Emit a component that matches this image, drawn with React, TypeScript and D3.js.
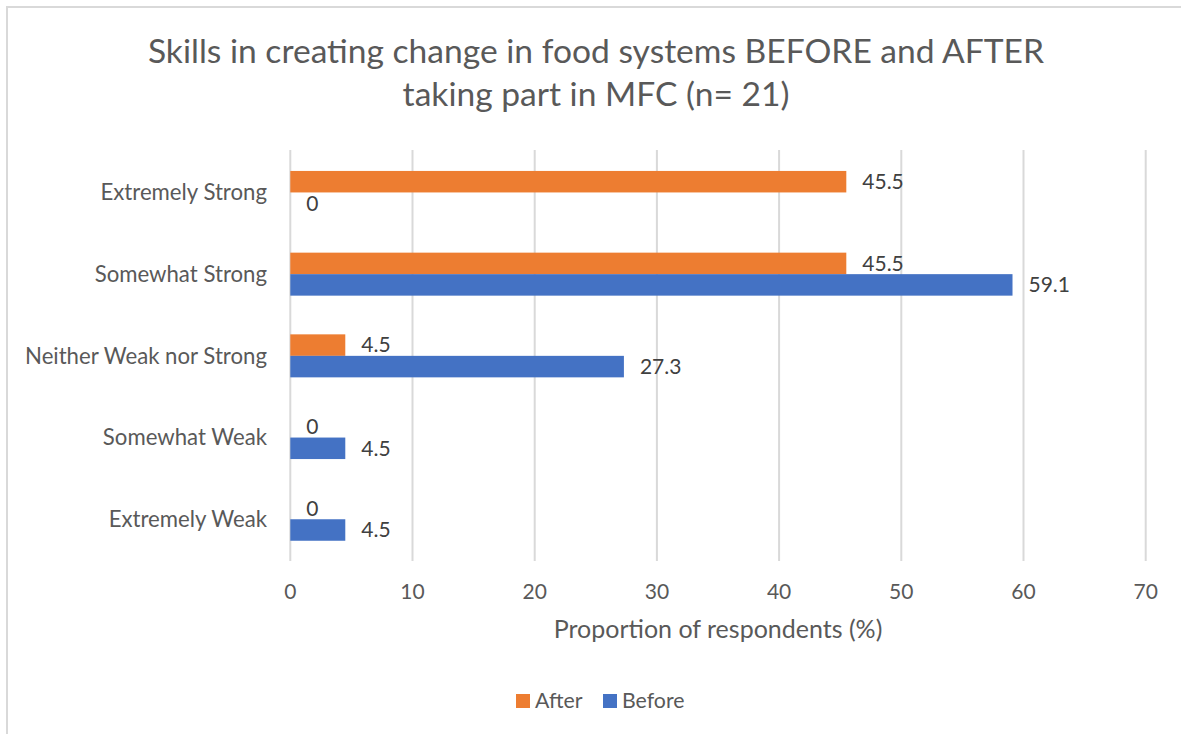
import React from "react";
import * as d3 from "d3";

const categories = [
  "Extremely Strong",
  "Somewhat Strong",
  "Neither Weak nor Strong",
  "Somewhat Weak",
  "Extremely Weak",
];
const seriesNames = ["After", "Before"];
const afterValues = [45.5, 45.5, 4.5, 0, 0];
const beforeValues = [0, 59.1, 27.3, 4.5, 4.5];
const xTicks = [0, 10, 20, 30, 40, 50, 60, 70];
const colors = ["#ED7D31", "#4472C4"];
const titleLines = [
  "Skills in creating change in food systems BEFORE and AFTER",
  "taking part in MFC (n= 21)",
];
const xAxisTitle = "Proportion of respondents (%)";

const W = 1181;
const H = 734;
const FONT = "Lato, 'Open Sans', sans-serif";

export default function App() {
  const x = d3.scaleLinear().domain([0, 70]).range([290.3, 1145.7]);
  const y = d3.scaleBand<string>().domain(categories).range([151.6, 560.1]).paddingInner(0.4737).paddingOuter(0.2368);
  const inner = d3.scaleBand<string>().domain(seriesNames).range([0, y.bandwidth()]);
  const series = [afterValues, beforeValues];

  return (
    <svg width={W} height={H} style={{ position: "absolute", left: 0, top: 0, background: "#fff" }}>
      <rect x={7} y={7} width={W + 10} height={H + 10} fill="#fff" stroke="#D9D9D9" strokeWidth={2} />
      {titleLines.map((t, i) => (
        <text key={i} x={596} y={63 + i * 43} textAnchor="middle" fontFamily={FONT} fontSize={33.6} fill="#595959">
          {t}
        </text>
      ))}
      {xTicks.map((t) => (
        <line key={t} x1={x(t)} x2={x(t)} y1={150} y2={561} stroke="#D9D9D9" strokeWidth={2} />
      ))}
      {series.map((vals, si) =>
        categories.map((c, ci) => (
          <rect
            key={si + "-" + ci}
            x={x(0)}
            y={(y(c) as number) + (inner(seriesNames[si]) as number)}
            width={x(vals[ci]) - x(0)}
            height={inner.bandwidth()}
            fill={colors[si]}
          />
        ))
      )}
      {series.map((vals, si) =>
        categories.map((c, ci) => (
          <text
            key={"l" + si + "-" + ci}
            x={x(vals[ci]) + 16}
            y={(y(c) as number) + (inner(seriesNames[si]) as number) + inner.bandwidth() / 2}
            dy="0.35em"
            fontFamily={FONT}
            fontSize={21}
            fill="#404040"
          >
            {vals[ci]}
          </text>
        ))
      )}
      {categories.map((c) => (
        <text
          key={c}
          x={267}
          y={(y(c) as number) + y.bandwidth() / 2}
          dy="0.35em"
          textAnchor="end"
          fontFamily={FONT}
          fontSize={22.2}
          fill="#595959"
        >
          {c}
        </text>
      ))}
      {xTicks.map((t) => (
        <text key={"t" + t} x={x(t)} y={599} textAnchor="middle" fontFamily={FONT} fontSize={21} fill="#595959">
          {t}
        </text>
      ))}
      <text x={718} y={638} textAnchor="middle" fontFamily={FONT} fontSize={25} fill="#595959">
        {xAxisTitle}
      </text>
      <g>
        <rect x={516} y={694} width={14} height={14} fill={colors[0]} />
        <text x={535} y={708} fontFamily={FONT} fontSize={21.3} fill="#595959">
          {seriesNames[0]}
        </text>
        <rect x={603} y={694} width={14} height={14} fill={colors[1]} />
        <text x={622} y={708} fontFamily={FONT} fontSize={21.3} fill="#595959">
          {seriesNames[1]}
        </text>
      </g>
    </svg>
  );
}
